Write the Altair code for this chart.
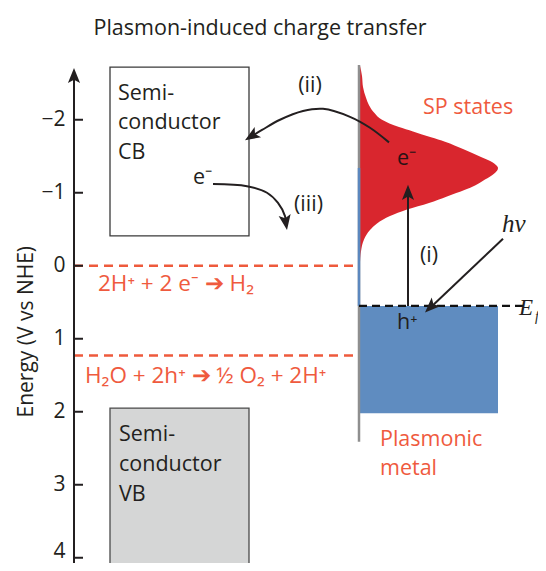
import altair as alt
import pandas as pd

# ---------------- values ----------------
energy_ticks = [-2, -1, 0, 1, 2, 3, 4]          # V vs NHE
cb_energy = [-2.72, -0.41]                        # semiconductor CB box
vb_energy = [1.95, 4.4]                           # semiconductor VB box
redox_energy = [0.0, 1.23]                        # H+/H2 and O2/H2O levels
fermi_energy = 0.55
metal_band_bottom = 2.02
metal_line_energy = [-2.75, 2.41]
sp_axis_start = -1.34                              # blue segment of metal axis
# SP-state density outline (energy, width in px)
sp_energy = [-2.74, -2.60, -2.45, -2.30, -2.20, -2.10, -2.00, -1.90, -1.84, -1.76,
             -1.70, -1.60, -1.49, -1.42, -1.38, -1.34, -1.30, -1.26, -1.18, -1.10,
             -1.04, -0.95, -0.86, -0.77, -0.68, -0.58, -0.49, -0.36, -0.20, -0.05]
sp_width = [1, 3, 4, 7, 10, 15, 23, 40, 54, 72,
            86, 104, 122, 133, 137, 139, 138, 135, 126, 116,
            106, 88, 70, 48, 31, 18, 11, 5, 2, 1]

# ---------------- layout (x in px from the energy axis) ----------------
CB_X = (36, 175)
METAL_X = 285
METAL_RIGHT = 424
FERMI_RIGHT = 454
EXC_X = 334

W, H = 460, 498
DARK = "#231f20"
RED_TXT = "#ef5a3e"
RED_DASH = "#ee5a3c"
SP_RED = "#d9262e"
BLUE = "#5f8cc0"
FONT = "Open Sans"

xs = alt.Scale(domain=[0, W], nice=False, zero=False)
ys = alt.Scale(domain=[-2.75, -2.75 + H / 73.0], reverse=True, nice=False, zero=False)
yaxis = alt.Axis(values=energy_ticks, ticks=False, tickSize=0, domain=False, grid=False,
                 labelFont=FONT, labelFontSize=21, labelColor=DARK, labelPadding=9,
                 labelOffset={"condition": {"test": "datum.value == 4", "value": -6}, "value": 0},
                 title=None)


def X(f):
    return alt.X(f, type="quantitative", scale=xs, axis=None)


def Y(f):
    return alt.Y(f, type="quantitative", scale=ys, axis=yaxis)


# redox dashed lines
redox = alt.Chart(pd.DataFrame({"e": redox_energy, "x0": 0, "x1": METAL_X})).mark_rule(
    color=RED_DASH, strokeWidth=2.5, strokeDash=[9, 6]).encode(
    x=X("x0"), x2="x1", y=Y("e"))

cb = alt.Chart(pd.DataFrame({"x0": [CB_X[0]], "x1": [CB_X[1]], "e0": [cb_energy[0]], "e1": [cb_energy[1]]})).mark_rect(
    fillOpacity=0, stroke="#3a3a3a", strokeWidth=1.3).encode(x=X("x0"), x2="x1", y=Y("e0"), y2="e1")

vb = alt.Chart(pd.DataFrame({"x0": [CB_X[0]], "x1": [CB_X[1]], "e0": [vb_energy[0]], "e1": [vb_energy[1]]})).mark_rect(
    fill="#d5d6d6", stroke="#4a4a4a", strokeWidth=1.3).encode(x=X("x0"), x2="x1", y=Y("e0"), y2="e1")

metal = alt.Chart(pd.DataFrame({"x0": [METAL_X], "x1": [METAL_RIGHT], "e0": [fermi_energy], "e1": [metal_band_bottom]})).mark_rect(
    fill=BLUE).encode(x=X("x0"), x2="x1", y=Y("e0"), y2="e1")

sp = alt.Chart(pd.DataFrame({"e": sp_energy, "w": sp_width})).transform_calculate(
    x0=str(METAL_X), x1=f"{METAL_X} + datum.w").mark_area(
    orient="horizontal", color=SP_RED, interpolate="monotone", opacity=1).encode(
    y=Y("e"), x=X("x1"), x2="x0")

metal_line = alt.Chart(pd.DataFrame({"x": [METAL_X], "e0": [metal_line_energy[0]], "e1": [metal_line_energy[1]]})).mark_rule(
    color="#8f8f8f", strokeWidth=2.5).encode(x=X("x"), y=Y("e0"), y2="e1")

blue_line = alt.Chart(pd.DataFrame({"x": [METAL_X], "e0": [sp_axis_start], "e1": [fermi_energy]})).mark_rule(
    color="#5b87be", strokeWidth=2.5).encode(x=X("x"), y=Y("e0"), y2="e1")

fermi = alt.Chart(pd.DataFrame({"x0": [METAL_X], "x1": [FERMI_RIGHT], "e": [fermi_energy]})).mark_rule(
    color="#111111", strokeWidth=2.2, strokeDash=[8, 5]).encode(x=X("x0"), x2="x1", y=Y("e"))

axis_line = alt.Chart(pd.DataFrame({"x": [0], "e0": [-2.64], "e1": [4.3]})).mark_rule(
    color=DARK, strokeWidth=2).encode(x=X("x"), y=Y("e0"), y2="e1")

ticks = alt.Chart(pd.DataFrame({"e": energy_ticks, "x0": 0, "x1": 9})).mark_rule(
    color=DARK, strokeWidth=2).encode(x=X("x0"), x2="x1", y=Y("e"))

# curved arrows (ii) and (iii)
curves = pd.DataFrame({
    "id": ["ii"] * 8 + ["iii"] * 6,
    "ord": list(range(8)) + list(range(6)),
    "x": [315, 296, 276, 249, 229, 206, 188, 176, 139, 173, 193, 204, 211, 212],
    "e": [-1.69, -1.89, -2.04, -2.15, -2.12, -2.00, -1.86, -1.76,
          -1.12, -1.09, -1.00, -0.86, -0.68, -0.58],
})
curve_layer = alt.Chart(curves).mark_line(color=DARK, strokeWidth=2, interpolate="catmull-rom").encode(
    x=X("x"), y=Y("e"), detail="id:N", order="ord:Q")

straight = pd.DataFrame({"x0": [EXC_X, 429], "x1": [EXC_X, 356], "e0": [fermi_energy, -0.37], "e1": [-1.02, 0.58]})
straight_layer = alt.Chart(straight).mark_rule(color=DARK, strokeWidth=2).encode(
    x=X("x0"), x2="x1", y=Y("e0"), y2="e1")

ARROW = "M0,0 L0.8,2 L0,1.55 L-0.8,2 Z"
heads = pd.DataFrame({"x": [171, 213, EXC_X, 351, 0],
                      "e": [-1.72, -0.49, -1.11, 0.64, -2.71],
                      "ang": [238, 171, 0, 226, 0]})
head_layer = alt.Chart(heads).mark_point(shape=ARROW, filled=True, opacity=1, size=230,
                                         color=DARK, strokeWidth=0).encode(
    x=X("x"), y=Y("e"), angle=alt.Angle("ang:Q", scale=None))

texts_left = pd.DataFrame([
    ("Semi-", 44, -2.274, DARK, 21.5), ("conductor", 44, -1.870, DARK, 21.5), ("CB", 44, -1.466, DARK, 21.5),
    ("e⁻", 119, -1.123, DARK, 21.5),
    ("Semi-", 45, 2.407, DARK, 21.5), ("conductor", 45, 2.818, DARK, 21.5), ("VB", 45, 3.229, DARK, 21.5),
    ("SP states", 349, -2.082, RED_TXT, 21.5),
    ("e⁻", 323, -1.384, "#2a1215", 21.5),
    ("h⁺", 323, 0.863, DARK, 21.5),
    ("Plasmonic", 306, 2.466, RED_TXT, 21.5), ("metal", 306, 2.863, RED_TXT, 21.5),
    ("2H⁺ + 2 e⁻ ➔ H₂", 24, 0.342, RED_TXT, 22.5),
    ("H₂O + 2h⁺ ➔ ½ O₂ + 2H⁺", 11, 1.603, RED_TXT, 22.5),
], columns=["t", "x", "e", "c", "s"])
texts_center = pd.DataFrame([
    ("Plasmon-induced charge transfer", 186, -3.164, DARK, 21.5),
    ("(ii)", 236, -2.384, DARK, 21.5), ("(iii)", 234.5, -0.753, DARK, 21.5), ("(i)", 355, -0.055, DARK, 21.5),
], columns=["t", "x", "e", "c", "s"])
texts_italic = pd.DataFrame([
    ("hν", 428, -0.466, DARK, 25), ("E", 445, 0.671, DARK, 23), ("f", 461, 0.76, DARK, 14),
], columns=["t", "x", "e", "c", "s"])
texts_rot = pd.DataFrame([("Energy (V vs NHE)", -41, 0.904, DARK, 21)], columns=["t", "x", "e", "c", "s"])


def tl(df, **kw):
    return alt.Chart(df).mark_text(baseline="alphabetic", **kw).encode(
        x=X("x"), y=Y("e"), text="t:N",
        color=alt.Color("c:N", scale=None), size=alt.Size("s:Q", scale=None))


t1 = tl(texts_left, align="left", font=FONT)
t2 = tl(texts_center, align="center", font=FONT)
t3 = tl(texts_italic, align="left", font="Liberation Serif", fontStyle="italic")
t4 = tl(texts_rot, align="center", font=FONT, angle=270)

chart = alt.layer(
    redox, cb, vb, metal, sp, metal_line, blue_line, fermi, axis_line, ticks,
    curve_layer, straight_layer, head_layer, t1, t2, t3, t4
).properties(
    width=W, height=H,
    autosize=alt.AutoSizeParams(type="none"),
    padding={"left": 66, "top": 57, "right": 4, "bottom": 0},
).configure_view(strokeWidth=0)

chart.save("out.html", embed_options={"renderer": "svg", "actions": False})
